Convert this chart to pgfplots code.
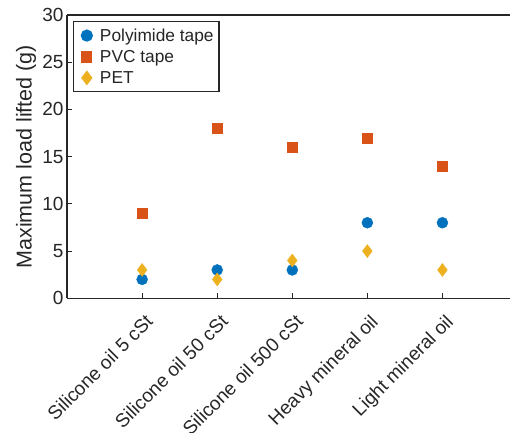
\documentclass[border=0pt]{standalone}
\usepackage{fontspec}
\setmainfont{Liberation Sans}
\usepackage{pgfplots}
\pgfplotsset{compat=1.18}
\usetikzlibrary{calc}
\definecolor{mblue}{rgb}{0,0.447,0.741}
\definecolor{morange}{rgb}{0.85,0.325,0.098}
\definecolor{myellow}{rgb}{0.929,0.694,0.125}
\definecolor{axgray}{rgb}{0.15,0.15,0.15}
\begin{document}
\begin{tikzpicture}
\begin{axis}[
  scale only axis,
  width=442.5pt, height=283pt,
  xmin=0, xmax=5.9,
  ymin=0, ymax=30,
  ytick={0,5,...,30},
  xtick={1,2,3,4,5},
  xticklabels={Silicone oil 5 cSt,Silicone oil 50 cSt,Silicone oil 500 cSt,Heavy mineral oil,Light mineral oil},
  x tick label style={rotate=45, anchor=north east, font=\fontsize{19}{23}\selectfont, inner sep=0pt, xshift=-9pt, yshift=-12pt, text=axgray},
  y tick label style={font=\fontsize{19}{23}\selectfont, text=axgray},
  /pgf/number format/assume math mode=true,
  axis x line*=box, axis y line*=left,
  tick pos=left,
  tick align=inside,
  major tick length=5pt,
  axis line style={line width=1.3pt, color=axgray},
  every tick/.style={line width=1pt, axgray},
  ylabel={Maximum load lifted (g)},
  ylabel style={font=\fontsize{21.5}{25}\selectfont, at={(axis description cs:-0.0927,0.5)}, anchor=center, text=axgray},
  legend style={at={(axis description cs:0.0125,0.979)}, anchor=north west, draw=axgray, line width=1.2pt, font=\fontsize{17.3}{20}\selectfont, row sep=5.5pt, inner xsep=4.5pt, inner ysep=6pt, text=axgray, nodes={inner xsep=1pt, inner ysep=1pt}, column sep=3pt},
  legend cell align=left,
  legend image code/.code={\draw[#1] plot coordinates {(0.3cm,0cm)}; \path (0cm,0cm) (0.6cm,0cm);},
  clip=false,
]
\addplot[only marks, mark=*, mark size=5.5pt, color=mblue, mark options={fill=mblue, draw=none}] coordinates {(1,2) (2,3) (3,3) (4,8) (5,8)};
\addlegendentry{Polyimide tape}
\addplot[only marks, mark=square*, mark size=5pt, color=morange, mark options={fill=morange, draw=none}] coordinates {(1,9) (2,18) (3,16) (4,17) (5,14)};
\addlegendentry{PVC tape}
\addplot[only marks, mark=diamond*, mark size=6.5pt, color=myellow, mark options={fill=myellow, draw=none}] coordinates {(1,3) (2,2) (3,4) (4,5) (5,3)};
\addlegendentry{PET}
\end{axis}
\pgfresetboundingbox
\useasboundingbox ($(current axis.south west)+(-67pt,-134pt)$) rectangle ($(current axis.north east)+(0pt,15pt)$);
\end{tikzpicture}
\end{document}
